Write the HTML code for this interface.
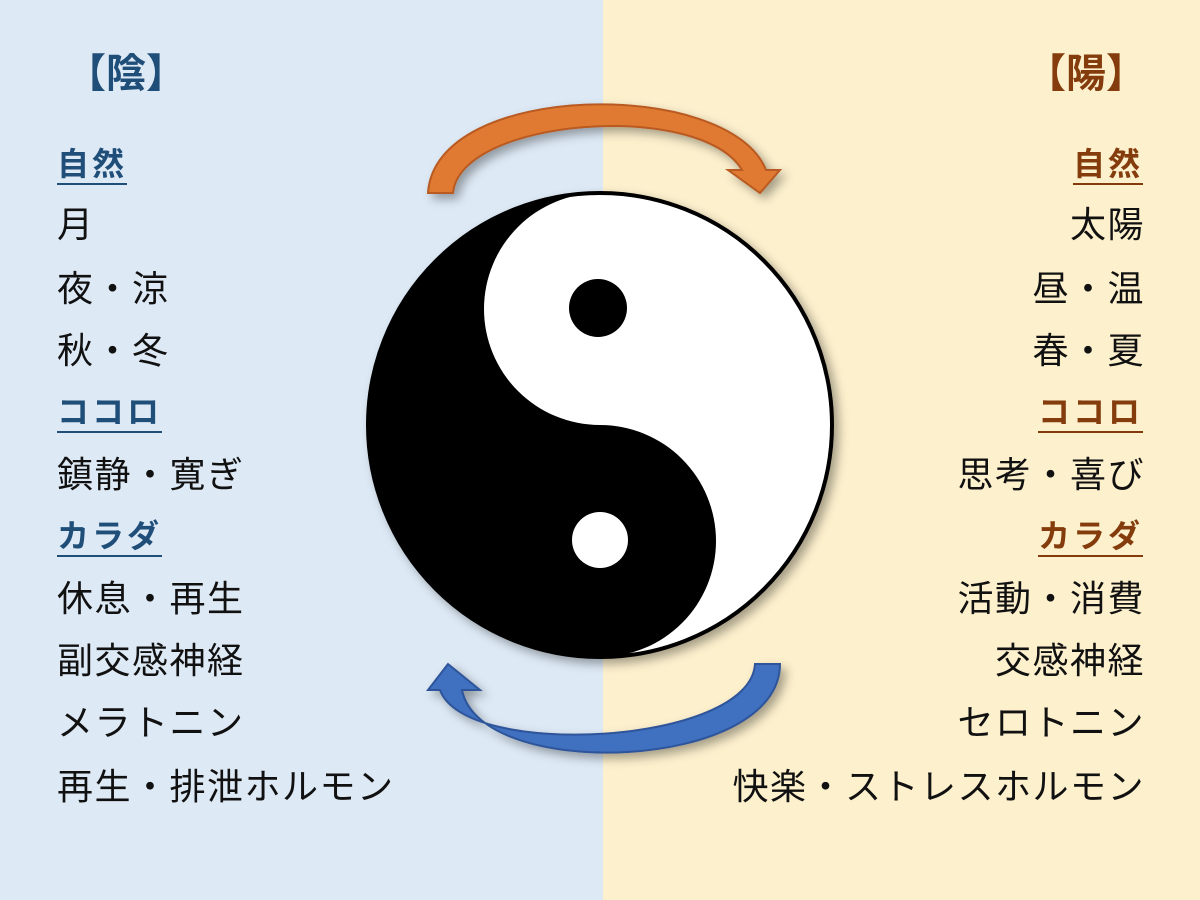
<!DOCTYPE html>
<html><head><meta charset="utf-8"><style>
body{margin:0;width:1200px;height:900px;position:relative;overflow:hidden;font-family:"Liberation Sans","Noto Sans CJK JP",sans-serif;}
.l{position:absolute;left:0;top:0;width:603px;height:900px;background:#dde9f5}
.r{position:absolute;left:603px;top:0;width:597px;height:900px;background:#fdf0cd}
.t{position:absolute;font-size:36px;line-height:40px;white-space:nowrap;color:#111;letter-spacing:1.5px}
.L{left:57px}
.R{right:55px;text-align:right}
.h{font-size:32px;font-weight:bold;letter-spacing:3px}
.R.h{right:57px}
.hb{color:#1f4e79;border-bottom:2px solid #1f4e79;line-height:38px}
.hr{color:#843c0c;border-bottom:2px solid #843c0c;line-height:38px}
.ttl{position:absolute;font-size:40px;font-weight:bold;top:51px;line-height:46px}
</style></head><body>
<div class="l"></div><div class="r"></div>
<svg width="1200" height="900" style="position:absolute;left:0;top:0">
<defs><filter id="sh" x="-20%" y="-20%" width="140%" height="140%"><feDropShadow dx="5" dy="5" stdDeviation="5" flood-color="#000" flood-opacity="0.35"/></filter></defs>
<g filter="url(#sh)">
<circle cx="600" cy="425" r="232" fill="#000"/>
<path d="M600,193 A232,232 0 0 1 600,657 A116,116 0 0 0 600,425 A116,116 0 0 1 600,193 Z" fill="#fff"/>
<circle cx="600" cy="425" r="232" fill="none" stroke="#000" stroke-width="4"/>
<circle cx="598" cy="308" r="29" fill="#000"/>
<circle cx="600" cy="540" r="28" fill="#fff"/>
</g>
<path filter="url(#sh)" d="M428,193 L453,193 C460,118 700,100 742,170 L728,170 L760,193 L780,170 L766,170 C730,78 435,80 428,193 Z" fill="#e07a30" stroke="#b85a20" stroke-width="2"/>
<path filter="url(#sh)" d="M755,664 L780,664 C780,772 480,782 462,690 L480,690 L448,664 L428,690 L440,690 C465,760 750,745 755,664 Z" fill="#3f6fc0" stroke="#2f559a" stroke-width="2"/>
</svg>
<div class="ttl" style="left:66px;color:#1f4e79">【陰】</div>
<div class="ttl" style="left:1026px;color:#843c0c">【陽】</div>

<div class="t L h hb" style="top:145px">自然</div>
<div class="t L" style="top:205px">月</div>
<div class="t L" style="top:269px">夜・涼</div>
<div class="t L" style="top:331px">秋・冬</div>
<div class="t L h hb" style="top:393px">ココロ</div>
<div class="t L" style="top:455px">鎮静・寛ぎ</div>
<div class="t L h hb" style="top:517px">カラダ</div>
<div class="t L" style="top:579px">休息・再生</div>
<div class="t L" style="top:641px">副交感神経</div>
<div class="t L" style="top:703px">メラトニン</div>
<div class="t L" style="top:767px">再生・排泄ホルモン</div>

<div class="t R h hr" style="top:145px">自然</div>
<div class="t R" style="top:205px">太陽</div>
<div class="t R" style="top:269px">昼・温</div>
<div class="t R" style="top:331px">春・夏</div>
<div class="t R h hr" style="top:393px">ココロ</div>
<div class="t R" style="top:455px">思考・喜び</div>
<div class="t R h hr" style="top:517px">カラダ</div>
<div class="t R" style="top:579px">活動・消費</div>
<div class="t R" style="top:641px">交感神経</div>
<div class="t R" style="top:703px">セロトニン</div>
<div class="t R" style="top:767px">快楽・ストレスホルモン</div>
</body></html>
